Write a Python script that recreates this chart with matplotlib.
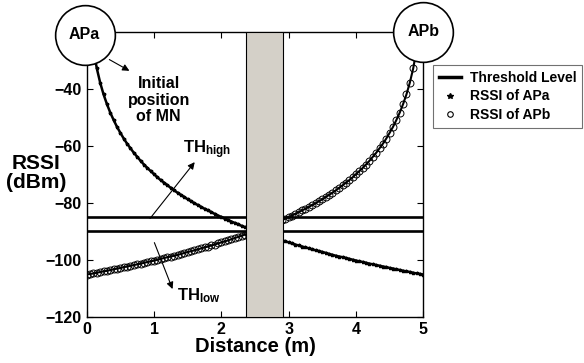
import numpy as np
import matplotlib.pyplot as plt
from matplotlib.lines import Line2D

plt.rcParams['font.family'] = ['Liberation Sans', 'DejaVu Sans']
plt.rcParams['font.weight'] = 'bold'
plt.rcParams['mathtext.fontset'] = 'custom'
plt.rcParams['mathtext.rm'] = 'Liberation Sans:bold'
plt.rcParams['mathtext.it'] = 'Liberation Sans:bold'
plt.rcParams['mathtext.bf'] = 'Liberation Sans:bold'

# distance along the path, metres
distance = np.linspace(0, 5, 101)

# RSSI (dBm)
rssi_apa = [-1.8, -17.3, -26.4, -32.9, -37.9, -42.0, -45.4, -48.4, -51.0, -53.4,
            -55.5, -57.5, -59.3, -60.9, -62.5, -63.9, -65.3, -66.6, -67.8, -68.9,
            -70.0, -71.1, -72.1, -73.0, -73.9, -74.8, -75.7, -76.5, -77.3, -78.0,
            -78.8, -79.5, -80.2, -80.8, -81.5, -82.1, -82.7, -83.3, -83.9, -84.5,
            -85.0, -85.6, -86.1, -86.6, -87.1, -87.6, -88.1, -88.6, -89.0, -89.5,
            -89.9, -90.4, -90.8, -91.2, -91.6, -92.0, -92.4, -92.8, -93.2, -93.6,
            -93.9, -94.3, -94.7, -95.0, -95.4, -95.7, -96.0, -96.4, -96.7, -97.0,
            -97.3, -97.6, -98.0, -98.3, -98.6, -98.9, -99.1, -99.4, -99.7, -100.0,
            -100.3, -100.6, -100.8, -101.1, -101.4, -101.6, -101.9, -102.1, -102.4, -102.6,
            -102.9, -103.1, -103.4, -103.6, -103.9, -104.1, -104.3, -104.6, -104.8, -105.0,
            -105.2]

rssi_apb = [-105.2, -105.0, -104.8, -104.6, -104.3, -104.1, -103.9, -103.6, -103.4, -103.1,
            -102.9, -102.6, -102.4, -102.1, -101.9, -101.6, -101.4, -101.1, -100.8, -100.6,
            -100.3, -100.0, -99.7, -99.4, -99.1, -98.9, -98.6, -98.3, -98.0, -97.6,
            -97.3, -97.0, -96.7, -96.4, -96.0, -95.7, -95.4, -95.0, -94.7, -94.3,
            -93.9, -93.6, -93.2, -92.8, -92.4, -92.0, -91.6, -91.2, -90.8, -90.4,
            -89.9, -89.5, -89.0, -88.6, -88.1, -87.6, -87.1, -86.6, -86.1, -85.6,
            -85.0, -84.5, -83.9, -83.3, -82.7, -82.1, -81.5, -80.8, -80.2, -79.5,
            -78.8, -78.0, -77.3, -76.5, -75.7, -74.8, -73.9, -73.0, -72.1, -71.1,
            -70.0, -68.9, -67.8, -66.6, -65.3, -63.9, -62.5, -60.9, -59.3, -57.5,
            -55.5, -53.4, -51.0, -48.4, -45.4, -42.0, -37.9, -32.9, -26.4, -17.3,
            -1.8]

th_high = -85
th_low = -90
handover_zone = (2.36, 2.91)

fig = plt.figure(figsize=(5.84, 3.63), dpi=100)
ax = fig.add_axes([0.1485, 0.1275, 0.5763, 0.7852])

ax.plot(distance, rssi_apa, '-', color='k', lw=1.8, marker='*', ms=2.5, zorder=3)
ax.plot(distance, rssi_apb, '-', color='k', lw=1.5, marker='o', ms=5,
        mfc='none', mec='k', mew=0.7, zorder=3)
ax.axhline(th_high, color='k', lw=1.9, zorder=2)
ax.axhline(th_low, color='k', lw=1.9, zorder=2)
ax.axvspan(handover_zone[0], handover_zone[1], facecolor='#d4d0c8',
           edgecolor='k', lw=0.8, zorder=4)

ax.set_xlim(0, 5)
ax.set_ylim(-120, -20)
ax.set_xticks([0, 1, 2, 3, 4, 5])
ax.set_yticks([-120, -100, -80, -60, -40])
ax.tick_params(direction='in', top=True, right=True, length=4, width=0.8,
               labelsize=11.5, pad=4)
for s in ax.spines.values():
    s.set_linewidth(1.0)
ax.set_xlabel('Distance (m)', fontsize=14.5, fontweight='bold', labelpad=0)
fig.text(36 / 584, 1 - 173 / 363, 'RSSI\n(dBm)', ha='center', va='center',
         fontsize=15, fontweight='bold', linespacing=1.05)

# access points
for x, y, name in [(-0.03, -21, 'APa'), (5.0, -20, 'APb')]:
    ax.plot([x], [y], 'o', ms=43, mfc='white', mec='k', mew=1.2,
            clip_on=False, zorder=10)
    ax.text(x, y, name, ha='center', va='center', fontsize=11.5,
            fontweight='bold', zorder=11)

arrow = dict(arrowstyle='-|>', color='k', lw=0.8, mutation_scale=10)
ax.annotate('', xy=(0.67, -34.2), xytext=(0.30, -29.3), arrowprops=arrow,
            annotation_clip=False, zorder=9)
ax.text(1.07, -44, 'Initial\nposition\nof MN', ha='center', va='center',
        fontsize=11.5, fontweight='bold', linespacing=1.1)

ax.annotate('', xy=(1.63, -65.0), xytext=(0.915, -86.3), arrowprops=arrow)
ax.text(1.43, -61.5, r'$\mathrm{TH_{high}}$', ha='left', va='center',
        fontsize=12)
ax.annotate('', xy=(1.29, -111.2), xytext=(0.99, -93.1), arrowprops=arrow)
ax.text(1.34, -112.5, r'$\mathrm{TH_{low}}$', ha='left', va='center',
        fontsize=12)

handles = [Line2D([], [], color='k', lw=2.5),
           Line2D([], [], color='k', ls='none', marker='*', ms=4),
           Line2D([], [], color='k', ls='none', marker='o', ms=4, mfc='none', mew=0.8)]
leg = fig.legend(handles, ['Threshold Level', 'RSSI of APa', 'RSSI of APb'],
                 loc='upper left', bbox_to_anchor=(432.7 / 584, 1 - 65 / 363),
                 prop={'weight': 'bold', 'size': 10}, fancybox=False,
                 handlelength=1.6, handletextpad=0.6, borderpad=0.45,
                 labelspacing=0.3, borderaxespad=0)
leg.get_frame().set_edgecolor('0.3')
leg.get_frame().set_linewidth(0.8)

fig.savefig('out.png', dpi=100)
